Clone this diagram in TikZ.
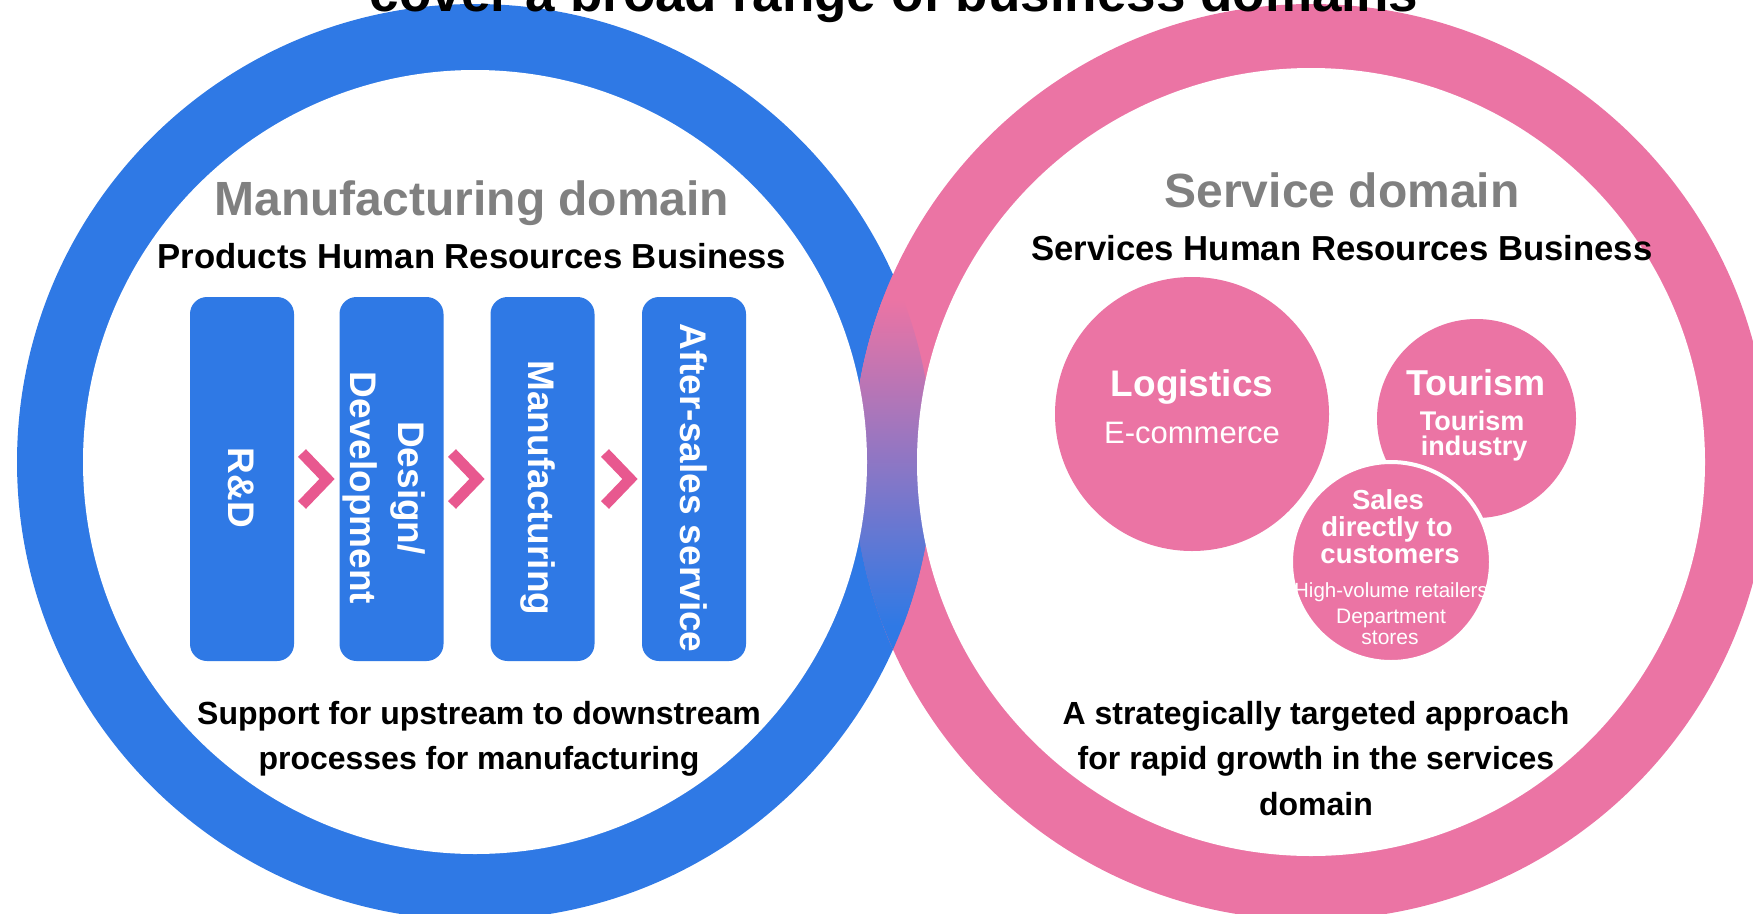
\documentclass[tikz,border=0pt]{standalone}
\usepackage{fontspec}
\setmainfont{Liberation Sans}
\definecolor{ringblue}{HTML}{2F79E5}
\definecolor{ringpink}{HTML}{EB74A4}
\definecolor{chev}{HTML}{E8588F}
\definecolor{mix}{HTML}{9B7BC4}
\definecolor{hdgray}{HTML}{808080}
\newcommand\fsz[1]{\fontsize{#1pt}{#1pt}\selectfont}
\begin{document}
\begin{tikzpicture}[x=1pt,y=-1pt,
  stagebox/.style={fill=ringblue, rounded corners=17pt, minimum width=104pt, minimum height=364pt, inner sep=0pt},
  stagetext/.style={rotate=-90, anchor=base, text=white, font=\fsz{37}\bfseries, inner sep=0pt},
  chevron/.style={draw=chev, line width=11pt, miter limit=10},
  svc/.style={circle, fill=ringpink, inner sep=0pt},
  svctext/.style={anchor=base, text=white, inner sep=0pt},
  domtitle/.style={anchor=base, text=hdgray, font=\fsz{48}\bfseries, inner sep=0pt},
  subtitle/.style={anchor=base, text=black, font=\fsz{34.7}\bfseries, inner sep=0pt},
  note/.style={anchor=base, text=black, font=\fsz{32}\bfseries, inner sep=0pt}]
\useasboundingbox (0,0) rectangle (1753,913);
\clip (0,0) rectangle (1753,913);
% rings
\coordinate (bc) at (475,462);
\coordinate (pc) at (1311,462);
\fill[ringblue] (bc) circle[radius=458];
\fill[ringpink] (pc) circle[radius=458];
\begin{scope}
  \clip (bc) circle[radius=458];
  \clip (pc) circle[radius=458];
  \fill[ringpink] (830,240) rectangle (960,462);
  \fill[ringblue] (830,462) rectangle (960,690);
  \shade[top color=ringpink, middle color=mix, bottom color=ringblue] (830,300) rectangle (960,625);
\end{scope}
\fill[white] (bc) circle[radius=392];
\fill[white] (pc) circle[radius=394];
% title (cut off at top, as in the reference)
\node[anchor=base, font=\fsz{53}\bfseries, inner sep=0pt] (title) at (894,11) {cover a broad range of business domains};
% manufacturing side
\node[domtitle] (mdom) at (472,215) {Manufacturing domain};
\node[subtitle] (mhr) at (472,268) {Products Human Resources Business};
\node[stagebox] (b1) at (242,479) {};
\node[stagebox] (b2) at (391.5,479) {};
\node[stagebox] (b3) at (542.5,479) {};
\node[stagebox] (b4) at (694,479) {};
\node[stagetext] (t1) at (228,488) {R\&D};
\node[stagetext] (t2a) at (398,488) {Design/};
\node[stagetext] (t2b) at (350,488) {Development};
\node[stagetext] (t3) at (528,488) {Manufacturing};
\node[stagetext] (t4) at (680,488) {After-sales service};
\draw[chevron] (302,453) -- (327,479) -- (302,505);
\draw[chevron] (452,453) -- (477,479) -- (452,505);
\draw[chevron] (605,453) -- (630,479) -- (605,505);
\node[note] (ml1) at (479,724) {Support for upstream to downstream};
\node[note] (ml2) at (479,769) {processes for manufacturing};
% service side
\node[domtitle] (sdom) at (1342,207) {Service domain};
\node[subtitle] (shr) at (1342,260) {Services Human Resources Business};
\node[svc, minimum size=274pt] (log) at (1192,414) {};
\node[svc, minimum size=199pt] (tour) at (1476.5,418.5) {};
\node[svc, minimum size=200pt, draw=white, line width=4pt] (sales) at (1391,562) {};
\node[svctext, font=\fsz{37}\bfseries] (logt) at (1192,396) {Logistics};
\node[svctext, font=\fsz{31}] (ect) at (1192,443) {E-commerce};
\node[svctext, font=\fsz{36}\bfseries] (tourt) at (1476,395) {Tourism};
\node[svctext, font=\fsz{27}\bfseries] (tit1) at (1472,430) {Tourism};
\node[svctext, font=\fsz{27}\bfseries] (tit2) at (1474,455) {industry};
\node[svctext, font=\fsz{27.5}\bfseries] (st1) at (1388,509) {Sales};
\node[svctext, font=\fsz{27.5}\bfseries] (st2) at (1387,536) {directly to};
\node[svctext, font=\fsz{27.5}\bfseries] (st3) at (1390,563) {customers};
\node[svctext, font=\fsz{20.5}] (st4) at (1391,597) {High-volume retailers};
\node[svctext, font=\fsz{21}] (st5) at (1391,623) {Department};
\node[svctext, font=\fsz{21}] (st6) at (1390,644) {stores};
\node[note] (sl1) at (1316,724) {A strategically targeted approach};
\node[note] (sl2) at (1316,769) {for rapid growth in the services};
\node[note] (sl3) at (1316,815) {domain};
\end{tikzpicture}
\end{document}
